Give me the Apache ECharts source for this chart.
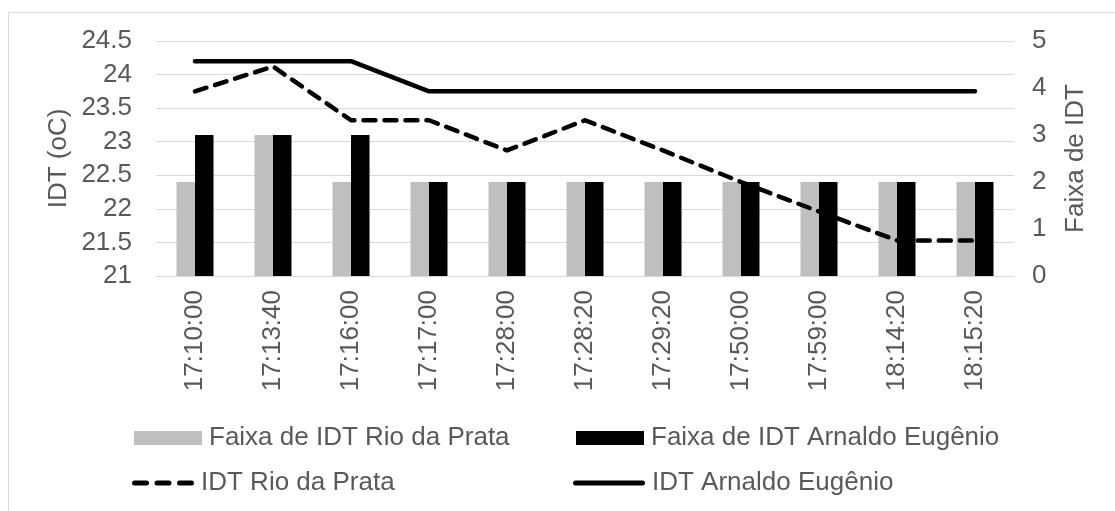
<!DOCTYPE html>
<html>
<head>
<meta charset="utf-8">
<script src="https://cdn.jsdelivr.net/npm/echarts@6/dist/echarts.min.js"></script>
<style>
html,body{margin:0;padding:0;background:#fff;}
#chart{width:1115px;height:511px;}
</style>
</head>
<body>
<div id="chart"></div>
<script>
const categories = ['17:10:00','17:13:40','17:16:00','17:17:00','17:28:00','17:28:20','17:29:20','17:50:00','17:59:00','18:14:20','18:15:20'];
const faixaRio = [2,3,2,2,2,2,2,2,2,2,2];
const faixaArnaldo = [3,3,3,2,2,2,2,2,2,2,2];
const idtRio = [23.75,24.12,23.32,23.32,22.87,23.32,22.87,22.4,21.96,21.53,21.53];
const idtArnaldo = [24.2,24.2,24.2,23.75,23.75,23.75,23.75,23.75,23.75,23.75,23.75];
const leftTicks = {min:21, max:24.5, interval:0.5};
const rightTicks = {min:0, max:5, interval:1};

const FONT = '"Liberation Sans", Arial, sans-serif';
const TXT = '#595959';
const FS = 26;
const chart = echarts.init(document.getElementById('chart'), null, {renderer:'canvas'});

const DASH_ICON = 'path://M2.5,0H14.5A2.5,2.5 0 0 1 14.5,5H2.5A2.5,2.5 0 0 1 2.5,0Z M25,0H37A2.5,2.5 0 0 1 37,5H25A2.5,2.5 0 0 1 25,0Z M47.5,0H59.5A2.5,2.5 0 0 1 59.5,5H47.5A2.5,2.5 0 0 1 47.5,0Z';
const SOLID_ICON = 'path://M2.5,0H69.5A2.5,2.5 0 0 1 69.5,5H2.5A2.5,2.5 0 0 1 2.5,0Z';

function leg(name, left, top, w, h, icon){
  return {data:[{name:name, icon:icon}], left:left, top:top, orient:'horizontal', itemWidth:w, itemHeight:h,
    itemGap:0, padding:0, selectedMode:false,
    textStyle:{fontFamily:FONT, fontSize:FS, color:TXT, padding:[0,0,0,2]}};
}

chart.setOption({
  animation:false,
  backgroundColor:'#fff',
  graphic:[{type:'rect', shape:{x:8.5, y:12.5, width:1200, height:600}, style:{fill:'none', stroke:'#d9d9d9', lineWidth:1}, silent:true}],
  grid:{left:156, right:101, top:41, bottom:235, containLabel:false},
  legend:[
    leg('Faixa de IDT Rio da Prata', 134, 425, 68, 14, 'rect'),
    leg('Faixa de IDT Arnaldo Eugênio', 576, 425, 68, 14, 'rect'),
    leg('IDT Rio da Prata', 132, 470, 62, 5, DASH_ICON),
    leg('IDT Arnaldo Eugênio', 573, 470, 72, 5, SOLID_ICON)
  ],
  xAxis:{type:'category', data:categories, boundaryGap:true,
    axisLine:{lineStyle:{color:'#d9d9d9', width:1}}, axisTick:{show:false},
    axisLabel:{rotate:90, margin:14, fontFamily:FONT, fontSize:FS, color:TXT, interval:0}},
  yAxis:[
    {type:'value', min:leftTicks.min, max:leftTicks.max, interval:leftTicks.interval,
     name:'IDT (oC)', nameLocation:'middle', nameGap:84, nameRotate:90, nameMoveOverlap:false,
     nameTextStyle:{fontFamily:FONT, fontSize:FS, color:TXT},
     axisLine:{show:false}, axisTick:{show:false},
     axisLabel:{margin:24, fontFamily:FONT, fontSize:FS, color:TXT},
     splitLine:{lineStyle:{color:'#d9d9d9', width:1}}},
    {type:'value', min:rightTicks.min, max:rightTicks.max, interval:rightTicks.interval,
     name:'Faixa de IDT', nameLocation:'middle', nameGap:49, nameRotate:90, nameMoveOverlap:false,
     nameTextStyle:{fontFamily:FONT, fontSize:FS, color:TXT},
     axisLine:{show:false}, axisTick:{show:false}, splitLine:{show:false},
     axisLabel:{margin:18, fontFamily:FONT, fontSize:FS, color:TXT}}
  ],
  series:[
    {name:'Faixa de IDT Rio da Prata', type:'bar', yAxisIndex:1, data:faixaRio, barWidth:18.5, barGap:'0%',
     itemStyle:{color:'#bfbfbf'}},
    {name:'Faixa de IDT Arnaldo Eugênio', type:'bar', yAxisIndex:1, data:faixaArnaldo, barWidth:18.5, barGap:'0%',
     itemStyle:{color:'#000000'}},
    {name:'IDT Rio da Prata', type:'line', yAxisIndex:0, data:idtRio, symbol:'none', z:5,
     lineStyle:{color:'#000', width:4.5, type:[12,9], cap:'round', join:'round'}, itemStyle:{color:'#000'}},
    {name:'IDT Arnaldo Eugênio', type:'line', yAxisIndex:0, data:idtArnaldo, symbol:'none', z:5,
     lineStyle:{color:'#000', width:4.5, type:'solid', cap:'round', join:'round'}, itemStyle:{color:'#000'}}
  ]
});
</script>
</body>
</html>
